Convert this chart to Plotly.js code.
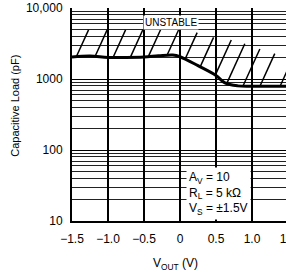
<!DOCTYPE html>
<html>
<head>
<meta charset="utf-8">
<script src="https://cdn.plot.ly/plotly-3.0.1.min.js"></script>
<style>
html,body{margin:0;padding:0;overflow:hidden;background:#fff;}
#chart{width:288px;height:276px;}
</style>
</head>
<body>
<div id="chart"></div>
<script>
// Curve: capacitive load limit vs output voltage
const vout = [-1.5, -1.25, -1.0, -0.75, -0.5, -0.3, -0.1, 0.0, 0.25, 0.5, 0.625, 0.8, 1.0, 1.25, 1.5];
const capLoad = [2040, 2100, 2010, 2010, 2040, 2120, 2180, 2060, 1540, 1120, 880, 800, 790, 790, 790];

// Upper edge of the hatched "unstable" region
const hatchTopX = [-1.5, 0.0, 0.25, 0.49, 0.72, 0.94, 1.15, 1.36, 1.5];
const hatchTopY = [4900, 4900, 4450, 3780, 3540, 3010, 2560, 2180, 1980];
// Where each hatch stroke starts on the curve
const hatchBaseX = [-1.44, -1.18, -0.93, -0.69, -0.44, -0.18, 0.07, 0.28, 0.49, 0.65, 0.875, 1.11, 1.39];

const xTickVals = [-1.5, -1.0, -0.5, 0, 0.5, 1.0, 1.5];
const xTickText = ['\u22121.5', '\u22121.0', '\u22120.5', '0', '0.5', '1.0', '1.5'];
const yTickVals = [10, 100, 1000, 10000];
const yTickText = ['10', '100', '1000', '10,000'];

function interpLog(xs, ys, x) {
  if (x <= xs[0]) return Math.log10(ys[0]);
  for (let i = 0; i < xs.length - 1; i++) {
    if (x <= xs[i + 1]) {
      const t = (x - xs[i]) / (xs[i + 1] - xs[i]);
      return Math.log10(ys[i]) + t * (Math.log10(ys[i + 1]) - Math.log10(ys[i]));
    }
  }
  return Math.log10(ys[ys.length - 1]);
}

// hatch strokes: go up-right from the curve until the upper edge
const slope = 2.2 * 72 / 71; // decades per volt
const hx = [], hy = [];
hatchBaseX.forEach(function (bx) {
  const l0 = interpLog(vout, capLoad, bx);
  let t = 0;
  while (t < 0.6) {
    const L = l0 + slope * t;
    if (L >= interpLog(hatchTopX, hatchTopY, bx + t)) break;
    t += 0.002;
  }
  hx.push(bx, bx + t, null);
  hy.push(Math.pow(10, l0), Math.pow(10, l0 + slope * t), null);
});

const traces = [
  {
    x: hx, y: hy, mode: 'lines', type: 'scatter',
    line: {color: '#000', width: 1.5}, hoverinfo: 'skip', showlegend: false
  },
  {
    x: vout, y: capLoad, mode: 'lines', type: 'scatter',
    line: {color: '#000', width: 3, shape: 'spline', smoothing: 1},
    showlegend: false
  }
];

const layout = {
  width: 288, height: 276,
  margin: {l: 72, r: 0, t: 8, b: 55},
  paper_bgcolor: '#fff', plot_bgcolor: '#fff',
  font: {family: 'Arial, "Liberation Sans", sans-serif', size: 12, color: '#000'},
  showlegend: false,
  xaxis: {
    range: [-1.5, 1.5],
    tickmode: 'array', tickvals: xTickVals, ticktext: xTickText,
    showgrid: true, gridcolor: '#000', gridwidth: 1.5,
    showline: true, linecolor: '#000', linewidth: 2,
    zeroline: false,
    ticks: 'outside', ticklen: 6, tickcolor: 'rgba(0,0,0,0)',
    ticklabeloverflow: 'allow',
    tickfont: {size: 12, color: '#000'}
  },
  yaxis: {
    type: 'log', range: [1, 4],
    tickmode: 'array', tickvals: yTickVals, ticktext: yTickText,
    showgrid: true, gridcolor: '#000', gridwidth: 1,
    minor: {dtick: 'D1', showgrid: true, gridcolor: '#222', gridwidth: 1, ticks: ''},
    showline: true, linecolor: '#000', linewidth: 2,
    zeroline: false,
    ticks: 'outside', ticklen: 5, tickcolor: 'rgba(0,0,0,0)',
    ticklabeloverflow: 'allow',
    tickfont: {size: 12, color: '#000'}
  },
  annotations: [
    {
      text: 'UNSTABLE', xref: 'x', yref: 'y',
      x: -0.125, y: Math.log10(6150), showarrow: false,
      bgcolor: '#fff', borderpad: 1,
      font: {size: 10, color: '#000'}
    },
    {
      text: 'A<sub>V</sub> = 10<br>R<sub>L</sub> = 5 k\u03A9<br>V<sub>S</sub> = \u00B11.5V',
      xref: 'x', yref: 'paper', x: 0.08, y: 0, xanchor: 'left', yanchor: 'bottom',
      yshift: 1, align: 'left', showarrow: false,
      bgcolor: '#fff', borderpad: 2,
      font: {size: 12, color: '#000'}
    },
    {
      text: 'Capacitive Load (pF)', xref: 'paper', yref: 'paper',
      x: -0.265, y: 0.54, textangle: -90, showarrow: false,
      xanchor: 'center', yanchor: 'middle',
      font: {size: 11, color: '#000'}
    },
    {
      text: 'V<sub>OUT</sub> (V)', xref: 'paper', yref: 'paper',
      x: 0.48, y: -0.2, showarrow: false,
      xanchor: 'center', yanchor: 'middle',
      font: {size: 12, color: '#000'}
    }
  ]
};

Plotly.newPlot('chart', traces, layout, {displayModeBar: false, staticPlot: true});
</script>
</body>
</html>
